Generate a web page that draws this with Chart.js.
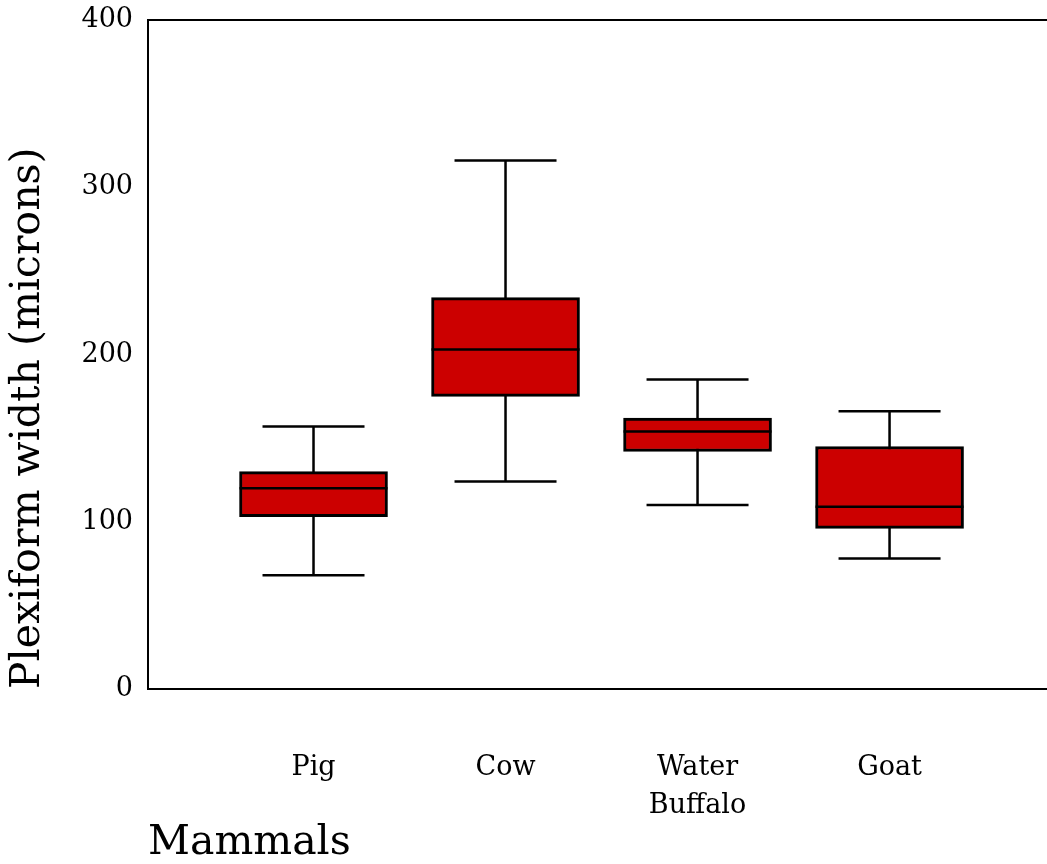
<!DOCTYPE html>
<html lang="en">
<head>
  <meta charset="UTF-8">
  <title>Plexiform width</title>
  <script src="https://cdn.jsdelivr.net/npm/chart.js"></script>
  <style>
    body { margin: 0; background: #fff; }
  </style>
</head>
<body>
  <canvas id="boxChart" width="1047" height="864"></canvas>

  <script>
    // box plot values (microns)
    const mammals = [['Pig'], ['Cow'], ['Water', 'Buffalo'], ['Goat']];
    const whiskerMin = [68, 124, 110, 78];
    const quartile1 = [103, 175, 142, 96];
    const medians = [120, 203, 154, 109];
    const quartile3 = [130, 234, 162, 145];
    const whiskerMax = [157, 316, 185, 166];
    const yTicks = [0, 100, 200, 300, 400];

    const serif = 'DejaVu Serif';
    const capWidth = 102;

    // whiskers behind the boxes, medians + top frame line on top
    const boxParts = {
      id: 'boxParts',
      beforeDatasetsDraw(chart) {
        const { ctx, scales: { x, y } } = chart;
        ctx.save();
        ctx.strokeStyle = '#000';
        ctx.lineWidth = 2.5;
        mammals.forEach((m, i) => {
          const cx = x.getPixelForValue(i + 1);
          ctx.beginPath();
          ctx.moveTo(cx, y.getPixelForValue(whiskerMin[i]));
          ctx.lineTo(cx, y.getPixelForValue(whiskerMax[i]));
          ctx.moveTo(cx - capWidth / 2, y.getPixelForValue(whiskerMin[i]));
          ctx.lineTo(cx + capWidth / 2, y.getPixelForValue(whiskerMin[i]));
          ctx.moveTo(cx - capWidth / 2, y.getPixelForValue(whiskerMax[i]));
          ctx.lineTo(cx + capWidth / 2, y.getPixelForValue(whiskerMax[i]));
          ctx.stroke();
        });
        ctx.restore();
      },
      afterDatasetsDraw(chart) {
        const { ctx, chartArea, scales: { x, y } } = chart;
        const half = chart.getDatasetMeta(0).data[0].width / 2;
        ctx.save();
        ctx.strokeStyle = '#000';
        ctx.lineWidth = 2.5;
        ctx.beginPath();
        medians.forEach((v, i) => {
          const cx = x.getPixelForValue(i + 1);
          const py = y.getPixelForValue(v);
          ctx.moveTo(cx - half, py);
          ctx.lineTo(cx + half, py);
        });
        ctx.stroke();
        ctx.lineWidth = 2;
        ctx.beginPath();
        ctx.moveTo(chartArea.left, chartArea.top);
        ctx.lineTo(chartArea.right, chartArea.top);
        ctx.stroke();
        ctx.restore();
      }
    };

    const ctx = document.getElementById('boxChart').getContext('2d');
    const chart = new Chart(ctx, {
      type: 'bar',
      data: {
        datasets: [{
          data: mammals.map((m, i) => ({ x: i + 1, y: [quartile1[i], quartile3[i]] })),
          backgroundColor: '#CC0000',
          borderColor: '#000',
          borderWidth: 3,
          borderSkipped: false,
          barThickness: 148
        }]
      },
      options: {
        responsive: false,
        animation: false,
        layout: { padding: { top: 20, right: 0, bottom: 0, left: 0 } },
        plugins: { legend: { display: false }, tooltip: { enabled: false } },
        scales: {
          x: {
            type: 'linear',
            min: 0.138,
            max: 4.82,
            offset: false,
            grid: { display: false, drawTicks: false, offset: false },
            border: { display: true, color: '#000', width: 2 },
            afterBuildTicks: (scale) => { scale.ticks = mammals.map((m, i) => ({ value: i + 1 })); },
            afterFit: (scale) => { scale.height = 175; scale.paddingLeft = 0; scale.paddingRight = 0; },
            ticks: {
              autoSkip: false,
              maxRotation: 0,
              padding: 60,
              color: '#000',
              font: { family: serif, size: 27, lineHeight: 1.4 },
              callback: (v) => mammals[Math.round(v) - 1]
            },
            title: {
              display: true,
              text: 'Mammals',
              align: 'start',
              color: '#000',
              font: { family: serif, size: 41, lineHeight: 1 },
              padding: { top: 0, bottom: 0 }
            }
          },
          y: {
            min: 0,
            max: 400,
            grid: { display: false, drawTicks: false },
            border: { display: true, color: '#000', width: 2 },
            afterBuildTicks: (scale) => { scale.ticks = yTicks.map(v => ({ value: v })); },
            afterFit: (scale) => { scale.width = 148; scale.paddingTop = 0; scale.paddingBottom = 0; },
            ticks: {
              padding: 15,
              color: '#000',
              font: { family: serif, size: 27 }
            },
            title: {
              display: true,
              text: 'Plexiform width (microns)',
              align: 'start',
              color: '#000',
              font: { family: serif, size: 41, lineHeight: 1 },
              padding: { top: 8, bottom: 0 }
            }
          }
        }
      },
      plugins: [boxParts]
    });
  </script>
</body>
</html>
